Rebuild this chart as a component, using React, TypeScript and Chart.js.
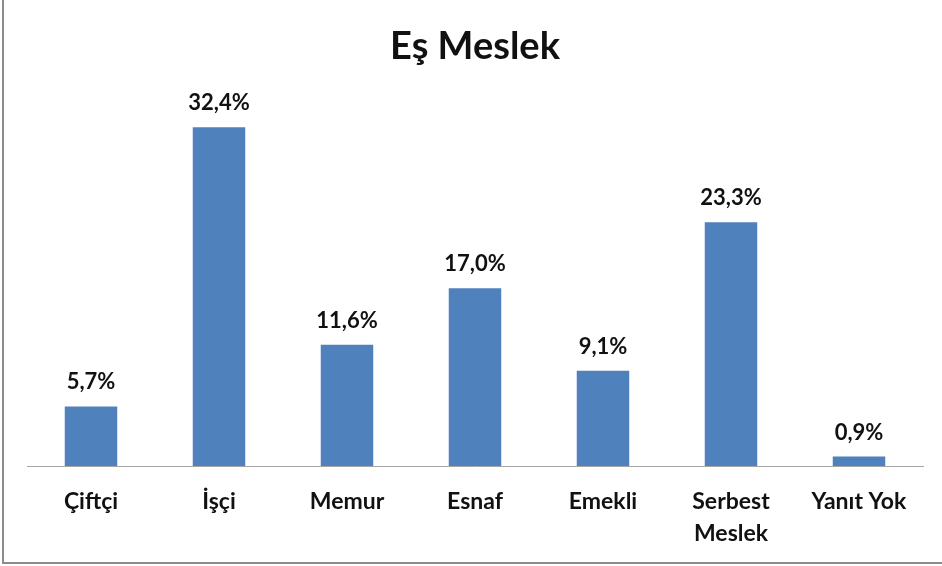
import React, { useEffect, useRef } from "react";
import { Chart, registerables } from "chart.js";

Chart.register(...registerables);

const title = "Eş Meslek";
const categories: (string | string[])[] = ["Çiftçi", "İşçi", "Memur", "Esnaf", "Emekli", ["Serbest", "Meslek"], "Yanıt Yok"];
const values = [5.7, 32.4, 11.6, 17.0, 9.1, 23.3, 0.9];
const valueLabels = ["5,7%", "32,4%", "11,6%", "17,0%", "9,1%", "23,3%", "0,9%"];

const FONT = "Lato, 'Open Sans', sans-serif";

const labelPlugin = {
  id: "valueLabels",
  afterDatasetsDraw(chart: any) {
    const ctx = chart.ctx;
    const meta = chart.getDatasetMeta(0);
    ctx.save();
    ctx.font = `bold 22px ${FONT}`;
    ctx.fillStyle = "#111";
    ctx.textAlign = "center";
    ctx.textBaseline = "alphabetic";
    meta.data.forEach((el: any, i: number) => {
      ctx.fillText(valueLabels[i], el.x, el.y - 17);
    });
    ctx.restore();
  },
};

export default function App() {
  const ref = useRef<HTMLCanvasElement>(null);
  useEffect(() => {
    if (!ref.current) return;
    const chart = new Chart(ref.current, {
      type: "bar",
      data: {
        labels: categories,
        datasets: [
          {
            data: values,
            backgroundColor: "#4F81BD",
            categoryPercentage: 1,
            barPercentage: 0.41,
          },
        ],
      },
      options: {
        animation: false,
        responsive: false,
        maintainAspectRatio: false,
        layout: { padding: { left: 27, right: 19, top: 0, bottom: 0 } },
        plugins: {
          legend: { display: false },
          tooltip: { enabled: false },
          title: {
            display: true,
            text: title,
            color: "#111",
            font: { family: FONT, size: 38, weight: "bold", lineHeight: 1.2 },
            padding: { top: 24.2, bottom: 30.2 },
          },
        },
        scales: {
          y: { display: false, min: 0, max: 35 },
          x: {
            grid: { display: false, drawTicks: false },
            border: { display: true, color: "#A6A6A6", width: 1 },
            ticks: {
              color: "#111",
              padding: 19,
              maxRotation: 0,
              autoSkip: false,
              font: { family: FONT, size: 23, weight: "bold", lineHeight: 1.4 },
            },
            afterFit: (s: any) => {
              s.height = 100;
            },
          },
        },
      },
      plugins: [labelPlugin],
    });
    return () => chart.destroy();
  }, []);
  return (
    <div style={{ position: "fixed", left: 0, top: 0, width: 942, height: 566, background: "#fff" }}>
      <canvas ref={ref} width={942} height={566} style={{ position: "absolute", left: 0, top: 0 }} />
      <div style={{ position: "absolute", left: 2, top: 0, width: 2, height: 564, background: "#8c8c8c" }} />
      <div style={{ position: "absolute", left: 2, top: 562, width: 940, height: 2, background: "#8c8c8c" }} />
    </div>
  );
}
